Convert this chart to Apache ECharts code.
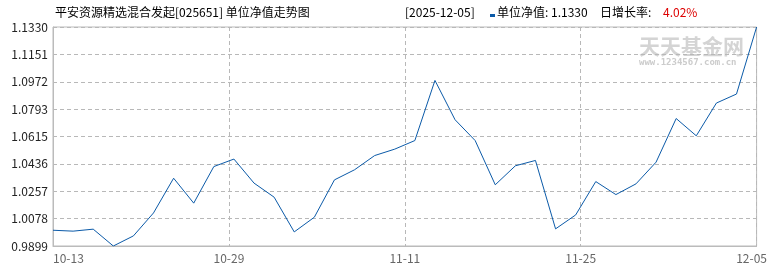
<!DOCTYPE html>
<html>
<head>
<meta charset="utf-8">
<script src="https://cdn.jsdelivr.net/npm/echarts@6/dist/echarts.min.js"></script>
<style>
html,body{margin:0;padding:0;background:#fff;}
#c{width:770px;height:270px;}
</style>
</head>
<body>
<div id="c"></div>
<script>
// ---- data ----
var xTickLabels = ["10-13", "10-29", "11-11", "11-25", "12-05"];
var yTickLabels = ["0.9899", "1.0078", "1.0257", "1.0436", "1.0615", "1.0793", "1.0972", "1.1151", "1.1330"];
var navValues = [1.0002, 0.9996, 1.0009, 0.9899, 0.9965, 1.0115, 1.0342, 1.0179, 1.0418, 1.0467,
                 1.0310, 1.0218, 0.9991, 1.0087, 1.0331, 1.0397, 1.0490, 1.0532, 1.0588, 1.0981,
                 1.0724, 1.0588, 1.0299, 1.0423, 1.0458, 1.0011, 1.0102, 1.0320, 1.0235, 1.0305,
                 1.0447, 1.0732, 1.0619, 1.0833, 1.0892, 1.1330];
var titleText = "平安资源精选混合发起[025651] 单位净值走势图";
var latestDate = "[2025-12-05]";
var latestNav = "单位净值: 1.1330";
var growthLabel = "日增长率: ";
var growthValue = "4.02%";

var yMin = 0.9899, yMax = 1.1330;
var yInterval = (yMax - yMin) / (yTickLabels.length - 1);
var xMax = navValues.length - 1;
var xInterval = xMax / (xTickLabels.length - 1);

var seriesData = navValues.map(function (v, i) { return [i, v]; });

var font = '"Noto Sans CJK SC", sans-serif';
var chart = echarts.init(document.getElementById('c'), null, {renderer: 'canvas'});
chart.setOption({
  animation: false,
  backgroundColor: '#fff',
  grid: {left: 53, top: 27, width: 705, height: 219, show: true, borderColor: '#bbbbbb', borderWidth: 1, backgroundColor: 'transparent'},
  xAxis: {
    type: 'value', min: 0, max: xMax, interval: xInterval,
    axisLine: {show: true, lineStyle: {color: '#bbbbbb'}},
    axisTick: {show: false},
    splitLine: {show: true, lineStyle: {color: '#b8b8b8', type: [4, 3]}},
    axisLabel: {
      color: '#666', fontSize: 12, fontFamily: font, margin: 6,
      alignMinLabel: 'left',
      formatter: function (v) {
        var i = Math.round(v / xInterval);
        if (i === xTickLabels.length - 1) return '{last|' + xTickLabels[i] + '}';
        return xTickLabels[i];
      },
      rich: {last: {color: '#666', fontSize: 12, fontFamily: font, padding: [0, 10, 0, 0]}}
    }
  },
  yAxis: {
    type: 'value', min: yMin, max: yMax, interval: yInterval,
    axisLine: {show: true, lineStyle: {color: '#bbbbbb'}},
    axisTick: {show: false},
    splitLine: {show: true, lineStyle: {color: '#b8b8b8', type: [4, 3]}},
    axisLabel: {
      color: '#222', fontSize: 12, fontFamily: font, margin: 5,
      formatter: function (v) {
        var i = Math.round((v - yMin) / yInterval);
        return yTickLabels[i];
      }
    }
  },
  graphic: [
    {type: 'text', left: 639, top: 36, z: 0, style: {text: '天天基金网', font: 'bold 21px ' + font, fill: '#d4d4d4'}},
    {type: 'text', left: 639, top: 58, z: 0, style: {text: 'www.1234567.com.cn', font: 'bold 9px "DejaVu Sans Mono", monospace', fill: '#cccccc'}},
    {type: 'text', left: 55, top: 6, style: {text: titleText, font: '12px ' + font, fill: '#000'}},
    {type: 'text', left: 405, top: 6, style: {text: latestDate, font: '12px ' + font, fill: '#000'}},
    {type: 'rect', shape: {x: 490, y: 14, width: 5, height: 3}, style: {fill: '#0b5aa8'}},
    {type: 'text', left: 497, top: 6, style: {text: latestNav, font: '12px ' + font, fill: '#000'}},
    {type: 'text', left: 600, top: 6, style: {text: growthLabel, font: '12px ' + font, fill: '#000'}},
    {type: 'text', left: 663, top: 6, style: {text: growthValue, font: '12px ' + font, fill: '#dd0000'}}
  ],
  series: [{
    type: 'line', data: seriesData, symbol: 'none', z: 5,
    lineStyle: {color: '#0b5aa8', width: 1}
  }]
});
</script>
</body>
</html>
